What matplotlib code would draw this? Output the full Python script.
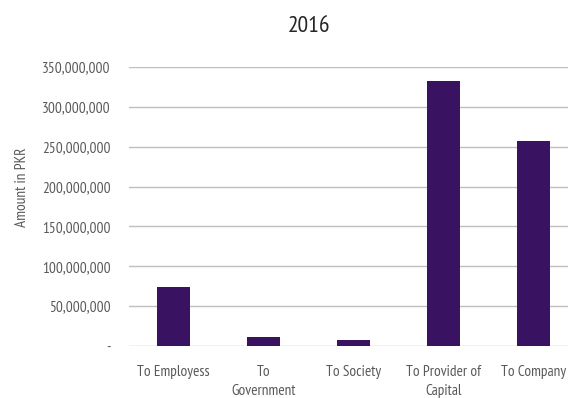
import matplotlib.pyplot as plt
from matplotlib.ticker import FuncFormatter

# values (PKR)
categories = ["To Employess", "To\nGovernment", "To Society", "To Provider of\nCapital", "To Company"]
amounts = [74000000, 11500000, 7500000, 332500000, 257000000]
yticks = [0, 50000000, 100000000, 150000000, 200000000, 250000000, 300000000, 350000000]

plt.rcParams['font.family'] = ['PT Sans Narrow', 'DejaVu Sans']

fig = plt.figure(figsize=(5.68, 3.98), dpi=100)
# axes runs past the right edge like the original crop
ax = fig.add_axes([128.5 / 568, 1 - 346 / 398, 450 / 568, 279 / 398])

x = range(len(categories))
ax.bar(x, amounts, width=0.37, color='#391262', zorder=3)

ax.set_xlim(-0.5, len(categories) - 0.5)
ax.set_ylim(0, 350000000)
ax.set_yticks(yticks)
ax.yaxis.set_major_formatter(FuncFormatter(lambda v, p: '-' if v == 0 else f'{int(v):,}'))
ax.set_xticks(list(x))
ax.set_xticklabels(categories, linespacing=1.45)

ax.grid(axis='y', color='#bfbfbf', linewidth=1, zorder=0)
for s in ax.spines.values():
    s.set_visible(False)
ax.tick_params(axis='both', length=0, labelsize=11, colors='#595959')
ax.tick_params(axis='y', pad=13)
ax.tick_params(axis='x', pad=14)

ax.set_ylabel('Amount in PKR', fontsize=11, color='#595959')
ax.yaxis.set_label_coords(-0.222, 0.569)

fig.text(309 / 568, 1 - 27 / 398, '2016', ha='center', va='center', fontsize=17, color='#262626')

fig.savefig('out.png', dpi=100)
